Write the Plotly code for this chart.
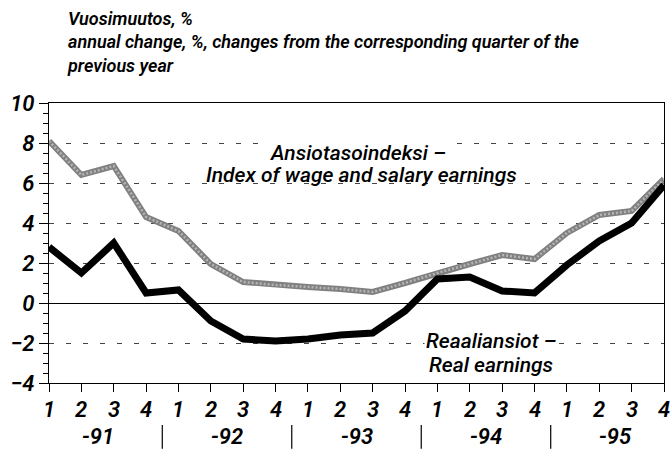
import plotly.graph_objects as go

# Quarterly data 1991-1995, annual change %
quarters = ["1", "2", "3", "4"] * 5
years = ["-91", "-92", "-93", "-94", "-95"]
wage_index = [8.1, 6.4, 6.85, 4.3, 3.6, 1.95, 1.05, 0.9, 0.8, 0.7, 0.55, 1.0,
              1.5, 1.95, 2.4, 2.2, 3.5, 4.4, 4.6, 6.2]
real_earnings = [2.8, 1.5, 3.0, 0.5, 0.65, -0.9, -1.8, -1.9, -1.8, -1.6, -1.5, -0.4,
                 1.2, 1.3, 0.6, 0.5, 1.9, 3.1, 4.0, 5.9]
y_ticks = [-4, -2, 0, 2, 4, 6, 8, 10]

x = list(range(len(quarters)))
font_family = "Roboto, Liberation Sans, sans-serif"
tick_font = dict(family=font_family, size=22, color="black", style="italic", weight=600)

fig = go.Figure()

# textured grey line: darker base with a lighter dotted core
fig.add_trace(go.Scatter(
    x=x, y=wage_index, mode="lines",
    line=dict(color="#808080", width=6),
    cliponaxis=False, showlegend=False, hoverinfo="skip",
))
fig.add_trace(go.Scatter(
    x=x, y=wage_index, mode="lines",
    line=dict(color="#b5b5b5", width=2.5, dash="2px,2px"),
    cliponaxis=False, showlegend=False, hoverinfo="skip",
))
fig.add_trace(go.Scatter(
    x=x, y=real_earnings, mode="lines",
    line=dict(color="black", width=7),
    cliponaxis=False, showlegend=False, hoverinfo="skip",
))

# quarter labels drawn as annotations so the edge labels are kept
for xi, q in zip(x, quarters):
    fig.add_annotation(x=xi, y=-0.095, xref="x", yref="paper", yanchor="middle",
                       text=q, showarrow=False, font=tick_font)

# year separators and labels under the quarter labels
for i, yr in enumerate(years):
    fig.add_annotation(x=i * 4 + 1.5, y=-0.19, xref="x", yref="paper", yanchor="middle",
                       text=yr, showarrow=False, font=tick_font)
    if i > 0:
        fig.add_shape(type="line", xref="x", yref="paper",
                      x0=i * 4 - 0.5, x1=i * 4 - 0.5, y0=-0.15, y1=-0.235,
                      line=dict(color="black", width=1.2))

label_font = dict(family=font_family, size=21, color="black", style="italic", weight=500)
fig.add_annotation(x=9.55, y=7.5, text="Ansiotasoindeksi –", showarrow=False,
                   font=label_font, bgcolor="white")
fig.add_annotation(x=9.65, y=6.4, text="Index of wage and salary earnings",
                   showarrow=False, font=label_font)
fig.add_annotation(x=11.6, y=-1.9, text="Reaaliansiot –", showarrow=False,
                   xanchor="left", font=label_font, bgcolor="white")
fig.add_annotation(x=11.68, y=-3.1, text="Real earnings", showarrow=False,
                   xanchor="left", font=label_font)

title_font = dict(family=font_family, size=18, color="black", style="italic", weight=600)
fig.add_annotation(
    x=0.026, y=1.345, xref="paper", yref="paper", xanchor="left", yanchor="top",
    align="left", showarrow=False, font=title_font,
    text="Vuosimuutos, %<br>annual change, %, changes from the corresponding quarter of the<br>previous year",
)

fig.update_layout(
    width=670, height=450,
    margin=dict(l=49, r=6, t=103, b=67),
    paper_bgcolor="white", plot_bgcolor="white",
    font=dict(family=font_family, color="black"),
)
fig.update_xaxes(
    range=[0, 19], tickvals=x, showticklabels=False,
    ticks="outside", ticklen=8, tickcolor="black",
    showgrid=False, zeroline=False,
    showline=True, linecolor="black", linewidth=1.2, mirror=True,
)
fig.update_yaxes(
    range=[-4, 10], tickvals=y_ticks,
    ticks="outside", ticklen=9, tickcolor="black", tickfont=tick_font,
    showgrid=True, gridcolor="#444444", griddash="5px,12px", gridwidth=1,
    zeroline=True, zerolinecolor="black", zerolinewidth=1.2,
    showline=True, linecolor="black", linewidth=1.2, mirror=True,
    minor=dict(dtick=0.5, ticks="outside", ticklen=5, tickcolor="black", showgrid=False),
)

fig.write_html("out.html", config={"displayModeBar": False},
               post_script="document.body.style.margin='0';")
